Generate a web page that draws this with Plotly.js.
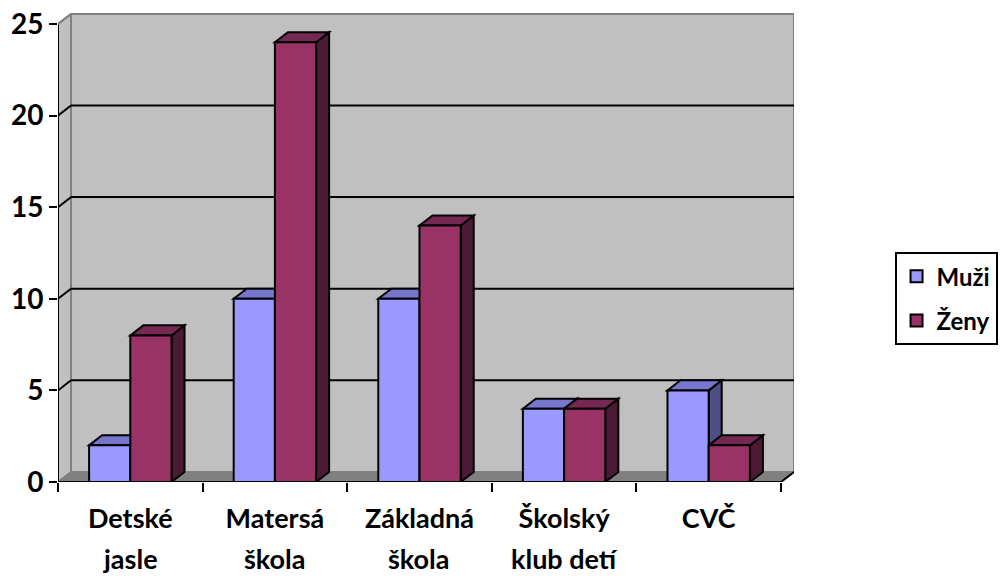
<!DOCTYPE html>
<html>
<head>
<meta charset="utf-8">
<script src="https://cdn.plot.ly/plotly-3.0.1.min.js"></script>
<style>html,body{margin:0;padding:0;background:#fff;}#chart{width:1000px;height:576px;}</style>
</head>
<body>
<div id="chart"></div>
<script>
// ---- data ----
const categories = ['Detské jasle', 'Matersá škola', 'Základná škola', 'Školský klub detí', 'CVČ'];
const labelLine1 = ['Detské', 'Matersá', 'Základná', 'Školský', 'CVČ'];
const labelLine2 = ['jasle', 'škola', 'škola', 'klub detí', ''];
const seriesNames = ['Muži', 'Ženy'];
const muzi = [2, 10, 10, 4, 5];
const zeny = [8, 24, 14, 4, 2];
const yTicks = [0, 5, 10, 15, 20, 25];

// ---- style ----
const FONT = 'Lato, "Open Sans", sans-serif';
const frontColors = ['#9999FF', '#993366'];
const topColors = ['#7676CC', '#742852'];
const sideColors = ['#4F4F85', '#4D1A35'];
const bargap = 0.43;
const DX = 0.09;   // depth offset in category units
const DY = 0.55;   // depth offset in value units
const yMax = 25;
const xMin = -0.5, xMax = categories.length - 0.5;

const seriesVals = [muzi, zeny];
const w = (1 - bargap) / 2;

const traces = seriesVals.map((vals, s) => ({
  type: 'bar',
  name: '<b>' + seriesNames[s] + '</b>',
  x: categories,
  y: vals,
  legendgroup: 'g' + s,
  marker: { color: frontColors[s], line: { color: '#000', width: 2 } },
  hoverinfo: 'x+y+name'
}));

function poly(pts) {
  return 'M ' + pts.map(p => p[0] + ',' + p[1]).join(' L ') + ' Z';
}

const shapes = [];
// back wall
shapes.push({ type: 'path', xref: 'x', yref: 'y', layer: 'below',
  path: poly([[xMin + DX, DY], [xMax + DX, DY], [xMax + DX, yMax + DY], [xMin + DX, yMax + DY]]),
  fillcolor: '#C0C0C0', line: { color: '#808080', width: 2 } });
// left side wall
shapes.push({ type: 'path', xref: 'x', yref: 'y', layer: 'below',
  path: poly([[xMin, 0], [xMin + DX, DY], [xMin + DX, yMax + DY], [xMin, yMax]]),
  fillcolor: '#C0C0C0', line: { color: '#808080', width: 2 } });
// floor
shapes.push({ type: 'path', xref: 'x', yref: 'y', layer: 'below',
  path: poly([[xMin, 0], [xMax, 0], [xMax + DX, DY], [xMin + DX, DY]]),
  fillcolor: '#808080', line: { color: '#808080', width: 1 } });
// gridlines on walls
yTicks.filter(v => v > 0 && v < yMax).forEach(v => {
  shapes.push({ type: 'line', xref: 'x', yref: 'y', layer: 'below',
    x0: xMin + DX, x1: xMax + DX, y0: v + DY, y1: v + DY, line: { color: '#000', width: 2 } });
  shapes.push({ type: 'line', xref: 'x', yref: 'y', layer: 'below',
    x0: xMin, x1: xMin + DX, y0: v, y1: v + DY, line: { color: '#000', width: 2 } });
});
// 3D faces of bars
seriesVals.forEach((vals, s) => {
  vals.forEach((v, i) => {
    const x0 = i - w + s * w;
    const x1 = x0 + w;
    shapes.push({ type: 'path', xref: 'x', yref: 'y', layer: 'below',
      path: poly([[x1, 0], [x1 + DX, DY], [x1 + DX, v + DY], [x1, v]]),
      fillcolor: sideColors[s], line: { color: '#000', width: 2 } });
    shapes.push({ type: 'path', xref: 'x', yref: 'y', layer: 'below',
      path: poly([[x0, v], [x1, v], [x1 + DX, v + DY], [x0 + DX, v + DY]]),
      fillcolor: topColors[s], line: { color: '#000', width: 2 } });
  });
});
// front axis lines
shapes.push({ type: 'line', xref: 'x', yref: 'y', layer: 'above',
  x0: xMin, x1: xMax, y0: 0, y1: 0, line: { color: '#000', width: 2 } });
shapes.push({ type: 'line', xref: 'x', yref: 'y', layer: 'above',
  x0: xMin, x1: xMin, y0: 0, y1: yMax, line: { color: '#000', width: 2 } });
shapes.push({ type: 'line', xref: 'x', yref: 'y', layer: 'above',
  x0: xMax, x1: xMax + DX, y0: 0, y1: DY, line: { color: '#000', width: 2 } });
shapes.push({ type: 'line', xref: 'x', yref: 'y', layer: 'above',
  x0: xMin, x1: xMin + DX, y0: yMax, y1: yMax + DY, line: { color: '#808080', width: 2 } });

const annotations = labelLine2.map((t, i) => ({
  x: i, xref: 'x', y: 0, yref: 'y', yshift: -76, yanchor: 'middle',
  text: '<b>' + t + '</b>', showarrow: false,
  font: { family: FONT, size: 27, color: '#000' }
}));

const layout = {
  width: 1000, height: 576,
  margin: { l: 58, r: 206, t: 13, b: 94, pad: 0, autoexpand: false },
  paper_bgcolor: '#fff', plot_bgcolor: '#fff',
  showlegend: true,
  barmode: 'group', bargap: bargap, bargroupgap: 0,
  xaxis: {
    type: 'category', range: [xMin, xMax + DX],
    tickmode: 'array', tickvals: categories, ticktext: labelLine1.map(t => '<b>' + t + '</b>'),
    tickson: 'boundaries', ticks: 'outside', ticklen: 9, tickwidth: 2, tickcolor: '#000',
    ticklabelstandoff: 18,
    showgrid: false, zeroline: false, showline: false, automargin: false,
    tickfont: { family: FONT, size: 27, color: '#000' }
  },
  yaxis: {
    range: [0, yMax + DY + 0.05],
    tickmode: 'array', tickvals: yTicks, ticktext: yTicks.map(v => '<b>' + v + '</b>'),
    ticks: 'outside', ticklen: 8, tickwidth: 2, tickcolor: '#000',
    showgrid: false, zeroline: false, showline: false, automargin: false,
    tickfont: { family: FONT, size: 28, color: '#000' }
  },
  legend: {
    x: 1.1366, xanchor: 'left', y: 0.49, yanchor: 'top',
    bordercolor: '#000', borderwidth: 2, bgcolor: '#fff',
    traceorder: 'grouped', tracegroupgap: 10,
    font: { family: FONT, size: 24, color: '#000' }
  },
  shapes: shapes,
  annotations: annotations
};

Plotly.newPlot('chart', traces, layout, { displayModeBar: false, staticPlot: true });
</script>
</body>
</html>
